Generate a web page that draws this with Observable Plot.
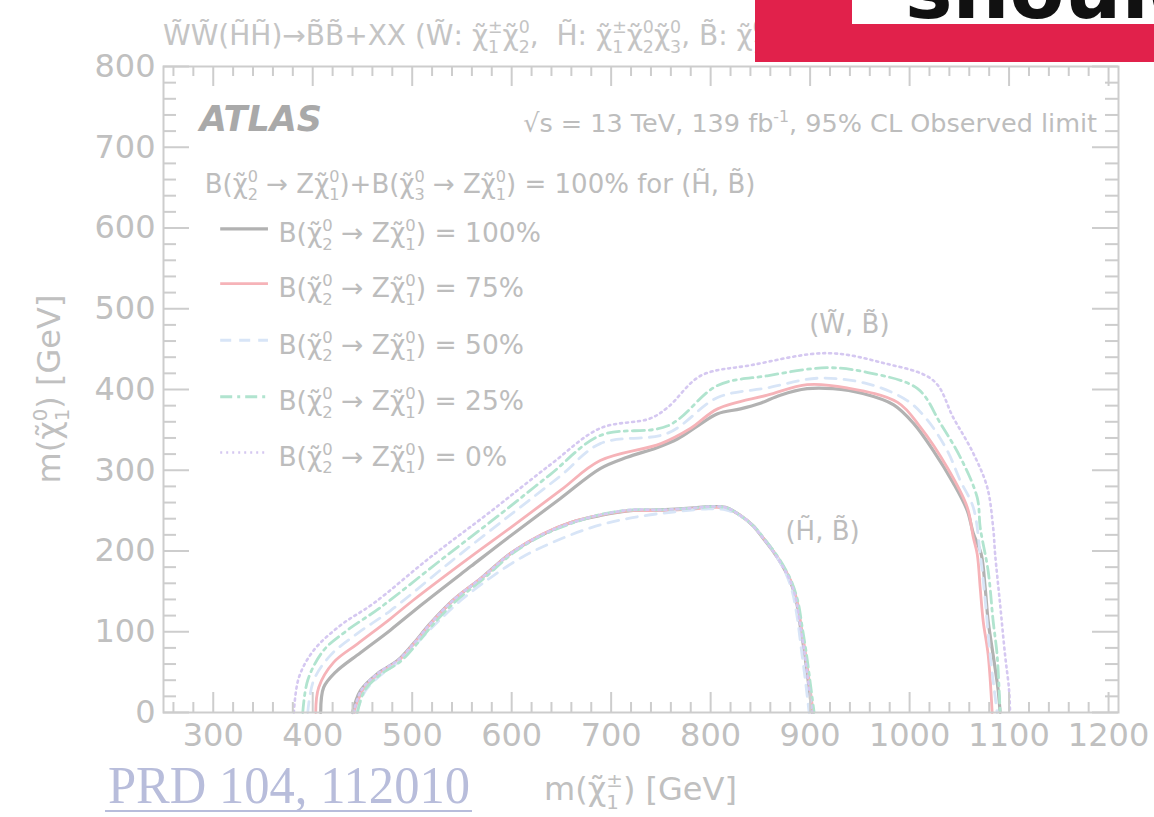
<!DOCTYPE html>
<html><head><meta charset="utf-8">
<script src="https://cdn.jsdelivr.net/npm/d3@7"></script>
<script src="https://cdn.jsdelivr.net/npm/@observablehq/plot@0.6"></script>
<style>html,body{margin:0;padding:0;background:#fff;overflow:hidden}</style>
</head><body><div id="chart"></div>
<script>
// ---------- data ----------
const brLevels = ["100%", "75%", "50%", "25%", "0%"];
// (W~, B~) observed contours: [m(chi1+-), m(chi10)]
const wb100 = [[408,0],[411,31],[423,50],[448,74],[478,102],[511,135],[559,181],[599,219],[649,265],[689,302],[716,316],[746,328],[767,339],[787,355],[807,370],[830,376],[850,383],[870,393],[897,401],[923,401],[953,395],[984,381],[1004,358],[1024,324],[1044,284],[1058,250],[1064,222],[1072,196],[1076,154],[1079,113],[1084,71],[1089,28],[1091,0]];
const wb75 = [[403,0],[406,31],[421,62],[445,85],[478,116],[501,139],[559,193],[599,229],[649,275],[689,312],[750,333],[780,352],[807,376],[857,393],[897,406],[937,402],[988,384],[1011,353],[1038,303],[1058,254],[1064,217],[1068,196],[1071,154],[1074,113],[1079,71],[1083,0]];
const wb50 = [[395,0],[401,40],[418,71],[445,98],[478,126],[538,186],[599,245],[649,293],[689,333],[757,346],[807,390],[857,402],[908,414],[958,407],[998,386],[1018,362],[1038,324],[1051,287],[1064,254],[1071,196],[1076,139],[1081,71],[1088,0]];
const wb25 = [[390,0],[395,40],[411,77],[435,102],[468,130],[528,188],[589,246],[639,295],[689,343],[757,355],[807,405],[857,417],[917,427],[958,421],[1008,401],[1031,358],[1051,316],[1068,266],[1071,229],[1079,175],[1084,113],[1088,71],[1091,0]];
const wb0 = [[381,0],[386,43],[401,77],[428,108],[461,135],[518,192],[579,249],[639,307],[689,352],[739,364],[757,378],[790,417],[840,430],[917,445],[973,433],[1024,411],[1044,365],[1064,321],[1078,279],[1084,229],[1086,196],[1091,134],[1096,71],[1100,28],[1101,0]];
// (H~, B~) observed contours
const hb100 = [[440,0],[448,27],[465,48],[485,64],[501,85],[518,110],[541,139],[569,166],[599,197],[629,219],[659,235],[689,244],[719,250],[749,251],[780,253],[800,255],[815,254],[830,244],[842,232],[852,217],[862,201],[872,182],[880,163],[886,139],[890,108],[894,77],[898,40],[902,0]];
const hb75 = [[442,0],[450,27],[467,48],[487,65],[503,87],[520,112],[543,141],[571,168],[601,199],[631,221],[661,236],[691,245],[721,250],[751,250],[781,252],[801,254],[816,253],[831,243],[843,231],[853,216],[863,200],[873,181],[881,162],[887,138],[891,107],[895,76],[899,39],[903,0]];
const hb50 = [[444,0],[453,27],[470,48],[490,66],[508,90],[528,115],[549,139],[580,168],[610,192],[640,210],[680,229],[720,241],[760,248],[795,252],[815,251],[832,242],[845,228],[856,212],[866,194],[875,174],[882,150],[887,118],[891,80],[895,42],[899,0]];
const hb25 = [[445,0],[452,27],[468,47],[488,63],[504,84],[521,109],[544,138],[572,166],[602,198],[632,220],[662,235],[692,246],[722,251],[752,251],[782,253],[802,255],[817,253],[832,242],[844,230],[854,215],[864,199],[874,180],[882,160],[888,136],[892,106],[896,75],[900,38],[904,0]];
const hb0 = [[441,0],[449,28],[466,49],[486,65],[502,86],[519,111],[542,140],[570,167],[600,198],[630,220],[660,235],[690,245],[720,251],[750,251],[780,253],[800,255],[815,254],[830,244],[842,232],[852,217],[862,201],[872,182],[880,163],[886,139],[890,108],[894,77],[898,40],[902,0]];
// axis ticks
const xTickLabels = [300,400,500,600,700,800,900,1000,1100,1200];
const yTickLabels = [0,100,200,300,400,500,600,700,800];
const xMinorTicks = d3.range(260, 1210, 20).filter(v => v % 100 !== 0);
const yMinorTicks = d3.range(20, 800, 20).filter(v => v % 100 !== 0);

// ---------- layout & styles ----------
const W = 1154, H = 817, mL = 163, mR = 36, mT = 66, mB = 105;
const frameW = W - mL - mR, frameH = H - mT - mB;
const FONT = "DejaVu Sans";
const frameColor = "#cdcdcd", labelColor = "#c0c0c0", textColor = "#bdbdbd";
const styles = {
  "100%": {stroke: "#b2b2b2", strokeWidth: 3.2},
  "75%":  {stroke: "#f6b3b8", strokeWidth: 2.8},
  "50%":  {stroke: "#d8e5f7", strokeWidth: 2.8, strokeDasharray: "11,8"},
  "25%":  {stroke: "#b1e4cf", strokeWidth: 2.8, strokeDasharray: "12,5,3,5"},
  "0%":   {stroke: "#d5c8f1", strokeWidth: 2.6, strokeDasharray: "2,4"}
};
const legendX = [307, 355], legendTextX = 366, legendY = [599, 531, 461, 391, 322];

const wbCurves = {"100%": wb100, "75%": wb75, "50%": wb50, "25%": wb25, "0%": wb0};
const hbCurves = {"100%": hb100, "75%": hb75, "50%": hb50, "25%": hb25, "0%": hb0};
const rows = [];
for (const br of brLevels) {
  for (const [x, y] of wbCurves[br]) rows.push({group: "WB", br, x, y});
  for (const [x, y] of hbCurves[br]) rows.push({group: "HB", br, x, y});
}

const seriesMarks = brLevels.flatMap((br, i) => [
  Plot.line(rows.filter(d => d.br === br), {x: "x", y: "y", z: "group", curve: "catmull-rom", ...styles[br], strokeLinejoin: "round"}),
  Plot.link([legendY[i]], {x1: () => legendX[0], x2: () => legendX[1], y1: d => d, y2: d => d, ...styles[br]})
]);

const tickStyle = {stroke: frameColor, strokeWidth: 2};
const plot = Plot.plot({
  width: W, height: H, marginLeft: mL, marginRight: mR, marginTop: mT, marginBottom: mB,
  x: {domain: [250, 1210], axis: null},
  y: {domain: [0, 800], axis: null},
  style: {fontFamily: FONT, background: "white", overflow: "visible"},
  marks: [
    ...seriesMarks,
    Plot.ruleX(xTickLabels, {x: d => d, insetTop: frameH - 20, ...tickStyle}),
    Plot.ruleX(xTickLabels, {x: d => d, insetBottom: frameH - 20, ...tickStyle}),
    Plot.ruleX(xMinorTicks, {x: d => d, insetTop: frameH - 10, ...tickStyle}),
    Plot.ruleX(xMinorTicks, {x: d => d, insetBottom: frameH - 10, ...tickStyle}),
    Plot.ruleY(yTickLabels, {y: d => d, insetRight: frameW - 26, ...tickStyle}),
    Plot.ruleY(yTickLabels, {y: d => d, insetLeft: frameW - 26, ...tickStyle}),
    Plot.ruleY(yMinorTicks, {y: d => d, insetRight: frameW - 13, ...tickStyle}),
    Plot.ruleY(yMinorTicks, {y: d => d, insetLeft: frameW - 13, ...tickStyle}),
    Plot.frame({stroke: frameColor, strokeWidth: 2}),
    Plot.text(xTickLabels, {x: d => d, frameAnchor: "bottom", dy: 33, text: d => `${d}`, fontSize: 32, fill: labelColor}),
    Plot.text(yTickLabels, {y: d => d, frameAnchor: "left", dx: -8, textAnchor: "end", text: d => `${d}`, fontSize: 32, fill: labelColor})
  ]
});
document.getElementById("chart").appendChild(plot);

// ---------- rich text (sub/superscripts, tildes) ----------
const svg = d3.select(plot);
const sx = v => plot.scale("x").apply(v), sy = v => plot.scale("y").apply(v);
const T = "\u0303"; // combining tilde
const chi = (sub, sup) => ({base: "\u03C7" + T, sub, sup});
function rich(parts, {x, y, size, anchor = "start", fill = textColor, weight = "normal", style = "normal", rotate = false, family = FONT}) {
  const t = svg.append("text").attr("x", x).attr("y", y).attr("font-size", size).attr("fill", fill)
    .attr("font-family", family).attr("font-weight", weight).attr("font-style", style).attr("text-anchor", anchor);
  if (rotate) t.attr("transform", `rotate(-90 ${x} ${y})`);
  let pDy = 0, pDx = 0;
  const add = (str, o = {}) => {
    const ts = t.append("tspan").text(str);
    if (o.size) ts.attr("font-size", o.size);
    const dy = (o.dy || 0) + pDy, dx = (o.dx || 0) + pDx;
    if (dy) ts.attr("dy", dy);
    if (dx) ts.attr("dx", dx);
    pDy = 0; pDx = 0;
    return ts;
  };
  const s = size * 0.62, up = size * 0.42, down = size * 0.28;
  for (const p of parts) {
    if (typeof p === "string") { add(p); continue; }
    if (p.base) add(p.base);
    if (p.sup && p.sub) {
      const a = add(p.sup, {size: s, dy: -up});
      const aw = a.node().getComputedTextLength();
      const b = add(p.sub, {size: s, dy: up + down, dx: -aw});
      const bw = b.node().getComputedTextLength();
      pDy = -down; pDx = Math.max(0, aw - bw);
    } else if (p.sup) {
      add(p.sup, {size: s, dy: -up}); pDy = up;
    }
  }
  return t;
}

// title (partially hidden by the banner, as in the reference)
rich([`W${T}W${T}(H${T}H${T})\u2192B${T}B${T}+XX (W${T}: `, chi("1", "\u00B1"), chi("2", "0"), `,  H${T}: `,
      chi("1", "\u00B1"), chi("2", "0"), chi("3", "0"), `, B${T}: `, chi("1", "0"), ")"],
     {x: sx(250), y: mT - 21, size: 28, fill: "#c4c4c4"});
// ATLAS label
rich(["ATLAS"], {x: sx(287), y: sy(720), size: 35, weight: "bold", style: "italic", fill: "#a9a9a9"});
rich(["\u221As = 13 TeV, 139 fb", {sup: "-1"}, ", 95% CL Observed limit"], {x: sx(1189), y: sy(718), size: 25.5, anchor: "end"});
rich(["B(", chi("2", "0"), " \u2192 Z", chi("1", "0"), ")+B(", chi("3", "0"), " \u2192 Z", chi("1", "0"), `) = 100% for (H${T}, B${T})`],
     {x: sx(292), y: sy(643), size: 26});
// legend entries
brLevels.forEach((br, i) => {
  rich(["B(", chi("2", "0"), " \u2192 Z", chi("1", "0"), `) = ${br}`],
       {x: sx(legendTextX), y: sy(legendY[i]) + 14, size: 26.5});
});
// curve labels
rich([`(W${T}, B${T})`], {x: sx(940), y: sy(469), size: 26, anchor: "middle"});
rich([`(H${T}, B${T})`], {x: sx(913), y: sy(213), size: 26, anchor: "middle"});
// axis titles
rich(["m(", chi("1", "\u00B1"), ") [GeV]"], {x: mL + frameW / 2, y: 800, size: 32, anchor: "middle", fill: labelColor});
rich(["m(", chi("1", "0"), ") [GeV]"], {x: 60, y: mT + frameH / 2, size: 32, anchor: "middle", fill: labelColor, rotate: true});

// ---------- slide decorations ----------
svg.append("rect").attr("x", 755).attr("y", 0).attr("width", 399).attr("height", 62).attr("fill", "#e1214b");
svg.append("rect").attr("x", 852).attr("y", 0).attr("width", 302).attr("height", 24).attr("fill", "#ffffff");
svg.append("text").attr("x", 905).attr("y", 18).attr("text-anchor", "start").attr("font-family", FONT).attr("font-weight", "bold")
  .attr("font-size", 80).attr("fill", "#111").text("should");
svg.append("text").attr("x", 108).attr("y", 803).attr("text-anchor", "start").attr("font-family", "Liberation Serif").attr("font-size", 52)
  .attr("fill", "#b8bddb").attr("textLength", 362).attr("lengthAdjust", "spacingAndGlyphs").text("PRD 104, 112010");
svg.append("line").attr("x1", 105).attr("x2", 472).attr("y1", 811).attr("y2", 811).attr("stroke", "#b8bddb").attr("stroke-width", 2);
</script></body></html>
